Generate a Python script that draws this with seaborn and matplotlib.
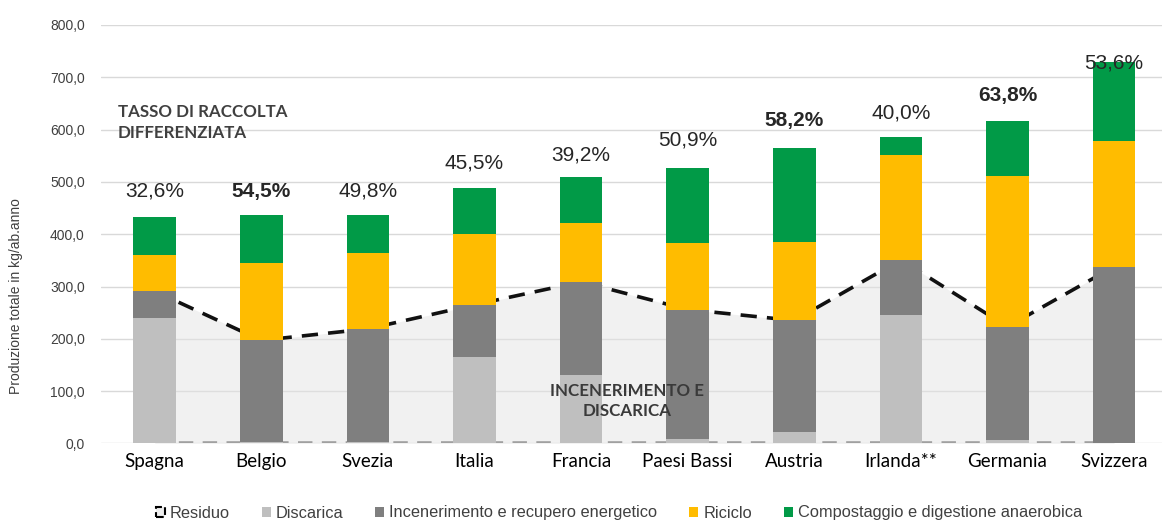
import numpy as np
import pandas as pd
import matplotlib
matplotlib.use('Agg')
import matplotlib.pyplot as plt
from matplotlib.patches import Patch
import seaborn as sns

# dati (kg/ab.anno)
paesi = ['Spagna', 'Belgio', 'Svezia', 'Italia', 'Francia', 'Paesi Bassi',
         'Austria', 'Irlanda**', 'Germania', 'Svizzera']
discarica = [239, 2, 2, 165, 131, 8, 22, 245, 6, 0]
incenerimento = [52, 195, 217, 100, 178, 248, 213, 105, 217, 338]
riciclo = [69, 148, 146, 135, 113, 127, 150, 201, 289, 241]
compostaggio = [73, 92, 72, 88, 88, 143, 180, 35, 105, 151]
residuo = [291, 197, 219, 265, 309, 256, 235, 351, 223, 338]
tasso = ['32,6%', '54,5%', '49,8%', '45,5%', '39,2%', '50,9%',
         '58,2%', '40,0%', '63,8%', '53,6%']

# layout delle etichette percentuali
etichette_y = [482, 482, 482, 536, 551, 580, 618, 632, 666, 727]
grassetto = [False, True, False, False, False, False, True, False, True, False]

colori = {
    'Discarica': '#bfbfbf',
    'Incenerimento e recupero energetico': '#7f7f7f',
    'Riciclo': '#ffbc00',
    'Compostaggio e digestione anaerobica': '#019a47',
}

df = pd.DataFrame({
    'paese': paesi,
    'discarica': discarica,
    'incenerimento': incenerimento,
    'riciclo': riciclo,
    'compostaggio': compostaggio,
})
df['c1'] = df['discarica']
df['c2'] = df['c1'] + df['incenerimento']
df['c3'] = df['c2'] + df['riciclo']
df['c4'] = df['c3'] + df['compostaggio']

sns.set_theme(style='white')
plt.rcParams['font.family'] = ['Liberation Sans', 'DejaVu Sans']

fig = plt.figure(figsize=(11.62, 5.23), dpi=100)
ax = fig.add_axes([101.4 / 1162, 1 - 443.4 / 523, 1 - 101.4 / 1162, 418.4 / 523])

# area residuo
x = np.arange(len(paesi))
ax.fill_between(x, 0, residuo, color='#e4e4e4', alpha=0.5, lw=0, zorder=1)
ax.plot(x, residuo, color='#111111', lw=2.6, ls=(0, (4.5, 2.8)), zorder=2)
ax.plot(x, np.zeros(len(paesi)), color='#a0a0a0', lw=2.6, ls=(0, (4, 2.6)), zorder=2)

# barre impilate (dall'alto verso il basso)
livelli = [('c4', 'Compostaggio e digestione anaerobica'),
           ('c3', 'Riciclo'),
           ('c2', 'Incenerimento e recupero energetico'),
           ('c1', 'Discarica')]
for col, nome in livelli:
    sns.barplot(data=df, x='paese', y=col, color=colori[nome], saturation=1,
                width=0.4, errorbar=None, ax=ax, zorder=3, linewidth=0)

for i, (t, yy, b) in enumerate(zip(tasso, etichette_y, grassetto)):
    ax.text(i, yy, t, ha='center', va='center', fontsize=15,
            fontweight='bold' if b else 'normal', color='#262626', zorder=5)

ax.set_xlim(-0.5, 9.45)
ax.set_ylim(0, 800)
yt = np.arange(0, 801, 100)
ax.set_yticks(yt)
ax.set_yticklabels([f'{v:.1f}'.replace('.', ',') for v in yt], fontsize=10, color='#404040')
ax.set_xticks(x)
ax.set_xticklabels(paesi, fontsize=13.5, color='black', family=['Lato', 'DejaVu Sans'])
ax.tick_params(axis='y', pad=12, length=0)
ax.tick_params(axis='x', pad=7, length=0)
ax.set_xlabel('')
ax.set_ylabel('')
ax.grid(axis='y', color='#d9d9d9', lw=1, zorder=0)
ax.set_axisbelow(True)
for s in ax.spines.values():
    s.set_visible(False)

fig.text(16 / 1162, 1 - 296 / 523, 'Produzione totale in kg/ab.anno', rotation=90,
         ha='center', va='center', fontsize=10, color='#404040')

ax.text(0.0157, 0.767, 'TASSO DI RACCOLTA\nDIFFERENZIATA', transform=ax.transAxes,
        ha='left', va='center', fontsize=12.2, fontweight='bold', color='#404040',
        linespacing=1.35, family=['Lato', 'DejaVu Sans'], zorder=6)
ax.text(0.4956, 0.1013, 'INCENERIMENTO E\nDISCARICA', transform=ax.transAxes,
        ha='center', va='center', fontsize=12.2, fontweight='bold', color='#3a3a3a',
        linespacing=1.3, family=['Lato', 'DejaVu Sans'], zorder=6)

handles = [Patch(facecolor='#eeeeee', edgecolor='black', lw=1.5, ls='--')]
labels = ['Residuo']
for nome, c in colori.items():
    handles.append(Patch(facecolor=c, edgecolor='none'))
    labels.append(nome)
fig.legend(handles, labels, loc='center', bbox_to_anchor=(619 / 1162, 1 - 513 / 523),
           ncol=5, frameon=False, fontsize=11.8, handlelength=0.55, handleheight=0.55,
           handletextpad=0.3, columnspacing=1.95, labelcolor='#404040')

fig.savefig('out.png', dpi=100)
